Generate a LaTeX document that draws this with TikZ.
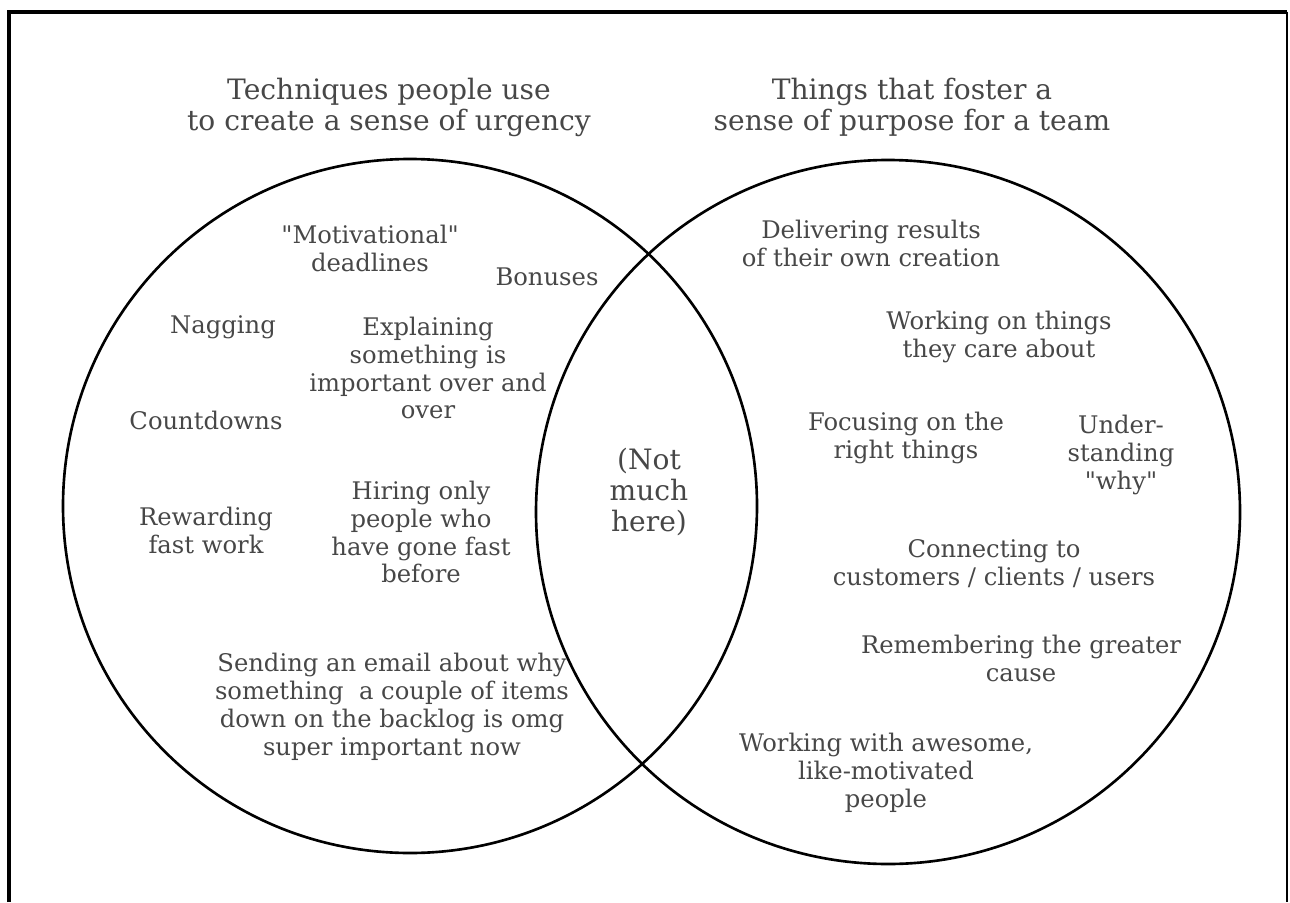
\documentclass[tikz,border=0pt]{standalone}
\usepackage{fontspec}
\setmainfont{DejaVu Serif}[Ligatures=TeXOff]
\usetikzlibrary{positioning}

\begin{document}
\begin{tikzpicture}[x=0.02cm,y=-0.02cm,
  framestyle/.style={line width=2.2pt},
  ringstyle/.style={line width=1.5pt},
  headstyle/.style={align=center,text=black!72,inner sep=0pt,font=\fontsize{16}{17.6}\selectfont},
  itemstyle/.style={align=center,text=black!72,inner sep=0pt,font=\fontsize{13.8}{15.9}\selectfont}]
\useasboundingbox (0,0) rectangle (1290,902);
\draw[framestyle] (9,902) |- (1287,12);
\draw[line width=1.2pt] (1287,12) -- (1287,902);

\node[headstyle] (urgency) at (389,107) {Techniques people use\\to create a sense of urgency};
\node[headstyle] (purpose) at (912,107) {Things that foster a\\sense of purpose for a team};

\draw[ringstyle] (410,506) circle [radius=347];
\draw[ringstyle] (888,512) circle [radius=352];

% urgency side
\node[itemstyle] (motiv) at (370,248) {"Motivational"\\deadlines};
\node[itemstyle] (bonus) at (547,277) {Bonuses};
\node[itemstyle] (nag) at (223,327) {Nagging};
\node[itemstyle] (explain) at (428,368) {Explaining\\something is\\important over and\\over};
\node[itemstyle] (countdown) at (206,420) {Countdowns};
\node[itemstyle] (reward) at (206,530) {Rewarding\\fast work};
\node[itemstyle] (hiring) at (421,532) {Hiring only\\people who\\have gone fast\\before};
\node[itemstyle] (email) at (392,707) {Sending an email about why\\something\ \ a couple of items\\down on the backlog is omg\\super important now};

% overlap
\node[headstyle] (notmuch) at (649,492) {(Not\\much\\here)};

% purpose side
\node[itemstyle] (deliver) at (871,243) {Delivering results\\of their own creation};
\node[itemstyle] (care) at (999,337) {Working on things\\they care about};
\node[itemstyle] (focus) at (906,438) {Focusing on the\\right things};
\node[itemstyle] (why) at (1121,455) {Under-\\standing\\"why"};
\node[itemstyle] (connect) at (994,564) {Connecting to\\customers / clients / users};
\node[itemstyle] (cause) at (1021,658) {Remembering the greater\\cause};
\node[itemstyle] (awesome) at (886,773) {Working with awesome,\\like-motivated\\people};
\end{tikzpicture}
\end{document}
